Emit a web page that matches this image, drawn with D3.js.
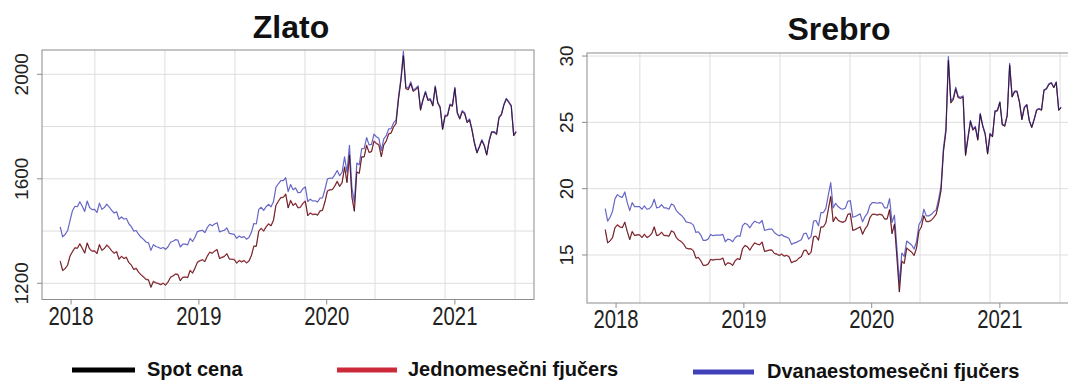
<!DOCTYPE html>
<html><head><meta charset="utf-8">
<script src="https://cdn.jsdelivr.net/npm/d3@7"></script>
<style>body{margin:0;background:#fff}svg{display:block}text{font-family:"Liberation Sans",Arial,sans-serif}</style>
</head><body><svg id="c" width="1068" height="381"></svg>
<script>
// ---------- data ----------
const startDate = "2017-12-01";   // first weekly observation
const stepDays = 7;               // weekly observations
const yearTicks = [2018, 2019, 2020, 2021];
const gridDays = [17600, 17800, 18000, 18200, 18400, 18600, 18800]; // days since 1970-01-01
const goldTicks = [1200, 1600, 2000];
const goldGrid = [1200, 1400, 1600, 1800, 2000];
const silverTicks = [15, 20, 25, 30];
const silverGrid = [15, 20, 25, 30];
const seriesNames = ["Spot cena", "Jednomesečni fjučers", "Dvanaestomesečni fjučers"];
const seriesColors = ["#000000", "#cc2a3a", "#4040b8"];
const panelTitles = ["Zlato", "Srebro"];

const goldSpot = [
 1284,1248,1255,1268,1303,
 1320,1335,1333,1350, 1333,1315,1353,1330, 1322,1323,1313,1347,1325, 1332,1345,1336,1323, 1314,1320,1291,1302, 1294,1298,1278,1269,1252,
 1256,1241,1231,1223, 1214,1212,1184,1206,1201, 1198,1194,1199,1192, 1204,1222,1227,1234, 1233,1209,1222,1223,1221, 1248,1238,1257,1280,
 1285,1289,1282,1303, 1318,1314,1322,1328, 1294,1298,1302,1312,1292, 1291,1290,1276,1286, 1281,1286,1277,1284,1305, 1341,1341,1399,1409,
 1399,1415,1426,1419, 1440,1497,1513,1527,1528, 1540,1488,1516,1497, 1505,1488,1490,1505, 1513,1458,1468,1462,1464, 1460,1476,1478,1511,
 1552,1557,1557,1571,1589, 1570,1584,1644,1585, 1690,1529,1475,1625, 1620,1683,1683,1727, 1700,1703,1743,1734,1729, 1684,1729,1743,1771,
 1774,1798,1810,1902,1975, 2070,1944,1940,1964, 1934,1940,1950,1862, 1900,1930,1899,1902,1878, 1951,1889,1871,1788, 1839,1840,1881,1877,
 1945,1850,1828,1856,1848, 1814,1824,1784,1734, 1698,1720,1745,1725, 1690,1744,1777,1777,1769, 1832,1844,1881,1904, 1891,1877,1764,1778
];
const goldFut1 = [
 1286,1250,1257,1270,1305,
 1322,1337,1335,1352, 1335,1317,1355,1332, 1324,1325,1315,1349,1327, 1334,1347,1338,1325, 1316,1322,1293,1304, 1296,1300,1280,1271,1254,
 1258,1243,1233,1225, 1216,1214,1186,1208,1203, 1200,1196,1201,1194, 1206,1224,1229,1236, 1235,1211,1224,1225,1223, 1250,1240,1259,1282,
 1287,1291,1284,1305, 1320,1316,1324,1330, 1296,1300,1304,1314,1294, 1293,1292,1278,1288, 1283,1288,1279,1286,1307, 1343,1343,1401,1411,
 1401,1417,1428,1421, 1442,1499,1515,1529,1530, 1542,1490,1518,1499, 1507,1490,1492,1507, 1515,1460,1470,1464,1466, 1462,1478,1480,1513,
 1554,1559,1559,1573,1591, 1572,1586,1646,1587, 1692,1531,1478,1627, 1622,1685,1685,1729, 1702,1705,1745,1736,1731, 1686,1731,1745,1773,
 1776,1800,1812,1904,1977, 2073,1946,1942,1966, 1936,1942,1952,1864, 1902,1932,1901,1904,1880, 1953,1891,1873,1790, 1841,1842,1883,1879,
 1947,1852,1830,1858,1850, 1816,1826,1786,1736, 1700,1722,1747,1727, 1692,1746,1779,1779,1771, 1834,1846,1883,1906, 1893,1879,1766,1780
];
const goldFut12 = [
 1416,1378,1387,1401,1440,
 1478,1495,1493,1512, 1495,1475,1515,1490, 1482,1483,1471,1507,1483, 1490,1503,1492,1479, 1469,1474,1445,1454, 1446,1448,1428,1417,1400,
 1402,1387,1376,1368, 1358,1355,1326,1348,1341, 1338,1333,1337,1330, 1340,1357,1361,1367, 1365,1339,1350,1350,1347, 1372,1360,1377,1398,
 1401,1403,1394,1413, 1426,1420,1427,1432, 1397,1400,1403,1412,1391, 1389,1387,1372,1381, 1375,1379,1369,1375,1395, 1429,1427,1483,1491,
 1479,1493,1502,1493, 1512,1567,1581,1593,1593, 1604,1551,1578,1558, 1565,1547,1548,1562, 1569,1513,1522,1515,1516, 1511,1526,1527,1559,
 1599,1603,1602,1615,1632, 1612,1625,1684,1624, 1728,1566,1511,1660, 1654,1716,1715,1758, 1730,1732,1771,1761,1755, 1709,1753,1765,1791,
 1792,1814,1824,1914,1985, 2088,1952,1947,1971, 1940,1946,1956,1868, 1905,1935,1904,1907,1883, 1956,1894,1876,1793, 1844,1845,1886,1882,
 1950,1855,1833,1861,1853, 1819,1829,1789,1739, 1703,1725,1750,1729, 1694,1748,1781,1781,1773, 1836,1848,1885,1908, 1895,1881,1768,1782
];
const silverSpot = [
 16.90,15.90,16.05,16.30,17.05,
 17.25,17.10,17.05,17.45, 16.75,16.15,16.75,16.45, 16.50,16.50,16.30,16.55,16.30, 16.40,16.60,17.10,16.45, 16.50,16.70,16.45,16.45, 16.40,16.80,16.70,16.30,16.10,
 16.00,15.80,15.50,15.45, 15.45,15.30,14.75,14.80,14.55, 14.20,14.20,14.30,14.65, 14.60,14.65,14.65,14.65, 14.75,14.20,14.40,14.35,14.20, 14.55,14.70,14.65,15.45,
 15.70,15.60,15.35,15.65, 15.90,15.80,15.75,15.95, 15.25,15.30,15.35,15.35,15.10, 15.05,14.95,15.05,14.90, 14.95,14.85,14.40,14.50,14.55, 14.75,14.85,15.30,15.35,
 15.00,15.20,16.35,16.40, 16.10,17.10,17.10,17.40,18.40, 19.40,17.50,17.85,17.60, 17.50,17.45,17.55,18.05, 18.10,16.85,16.90,17.00,17.10, 16.55,16.95,17.20,17.80,
 18.05,18.05,18.00,18.05,18.00, 17.70,17.70,18.40,16.60, 17.30,14.80,12.20,14.50, 14.35,15.50,15.35,15.20, 14.95,15.50,16.80,17.10,17.95, 17.50,17.50,17.60,17.80,
 18.05,18.85,19.85,22.80,24.30, 29.65,26.45,26.70,27.50, 26.85,26.80,26.90,22.50, 23.80,25.05,24.40,24.60,23.65, 25.60,24.70,24.10,22.60, 24.10,23.90,25.80,25.85,
 26.50,24.80,24.70,25.50,29.30, 26.90,27.30,27.30,26.50, 25.20,26.10,26.30,25.10, 24.60,25.20,25.90,26.00,25.90, 27.40,27.50,27.85,27.95, 27.60,28.00,25.90,26.10
];
const silverFut1 = [
 16.93,15.93,16.08,16.33,17.08,
 17.28,17.13,17.08,17.48, 16.78,16.18,16.78,16.48, 16.53,16.53,16.33,16.58,16.33, 16.43,16.63,17.13,16.48, 16.53,16.73,16.48,16.48, 16.43,16.83,16.73,16.33,16.13,
 16.03,15.83,15.53,15.48, 15.48,15.33,14.78,14.83,14.58, 14.23,14.23,14.33,14.68, 14.63,14.68,14.68,14.68, 14.78,14.23,14.43,14.38,14.23, 14.58,14.73,14.68,15.48,
 15.73,15.63,15.38,15.68, 15.93,15.83,15.78,15.98, 15.28,15.33,15.38,15.38,15.13, 15.08,14.98,15.08,14.93, 14.98,14.88,14.43,14.53,14.58, 14.78,14.88,15.33,15.38,
 15.03,15.23,16.38,16.43, 16.13,17.13,17.13,17.43,18.43, 19.43,17.53,17.88,17.63, 17.53,17.48,17.58,18.08, 18.13,16.88,16.93,17.03,17.13, 16.58,16.98,17.23,17.83,
 18.08,18.08,18.03,18.08,18.03, 17.73,17.73,18.43,16.63, 17.33,14.83,12.25,14.55, 14.38,15.53,15.38,15.23, 14.98,15.53,16.83,17.13,17.98, 17.53,17.53,17.63,17.83,
 18.08,18.88,19.88,22.83,24.33, 29.70,26.48,26.73,27.53, 26.88,26.83,26.93,22.53, 23.83,25.08,24.43,24.63,23.68, 25.63,24.73,24.13,22.63, 24.13,23.93,25.83,25.88,
 26.53,24.83,24.73,25.53,29.33, 26.93,27.33,27.33,26.53, 25.23,26.13,26.33,25.13, 24.63,25.23,25.93,26.03,25.93, 27.43,27.53,27.88,27.98, 27.63,28.03,25.93,26.13
];
const silverFut12 = [
 18.50,17.55,17.85,18.30,19.25,
 19.55,19.40,19.35,19.75, 18.95,18.35,18.95,18.65, 18.65,18.65,18.45,18.70,18.45, 18.50,18.70,19.20,18.55, 18.60,18.80,18.55,18.55, 18.45,18.85,18.75,18.35,18.15,
 18.00,17.80,17.50,17.45, 17.40,17.25,16.70,16.75,16.50, 16.10,16.10,16.20,16.55, 16.45,16.50,16.50,16.50, 16.55,16.00,16.20,16.15,16.00, 16.30,16.45,16.40,17.20,
 17.40,17.30,17.05,17.35, 17.55,17.45,17.40,17.60, 16.85,16.90,16.95,16.95,16.70, 16.55,16.45,16.55,16.40, 16.35,16.25,15.80,15.90,15.95, 16.05,16.15,16.60,16.65,
 16.20,16.40,17.55,17.60, 17.20,18.20,18.20,18.50,19.50, 20.45,18.55,18.90,18.65, 18.50,18.45,18.55,19.05, 19.10,17.85,17.90,18.00,18.10, 17.50,17.90,18.15,18.75,
 18.95,18.95,18.90,18.95,18.90, 18.55,18.55,19.25,17.45, 18.00,15.50,12.90,15.15, 14.90,16.05,15.90,15.75, 15.45,16.00,17.30,17.60,18.45, 17.95,17.95,18.05,18.25,
 18.40,19.20,20.20,23.10,24.55, 29.95,26.60,26.85,27.65, 26.95,26.90,27.00,22.60, 23.90,25.15,24.50,24.70,23.75, 25.68,24.78,24.18,22.68, 24.17,23.97,25.87,25.92,
 26.55,24.85,24.75,25.55,29.45, 26.95,27.35,27.35,26.55, 25.25,26.15,26.35,25.15, 24.65,25.25,25.95,26.05,25.95, 27.45,27.55,27.90,28.00, 27.65,28.05,25.95,26.15
];

// ---------- drawing ----------
const svg = d3.select("#c");
const parse = d3.utcParse("%Y-%m-%d");
const t0 = parse(startDate);
const xDomain = [parse("2017-10-10"), parse("2021-08-15")];

const panels = [
  {title: panelTitles[0], series: [goldSpot, goldFut1, goldFut12], ticks: goldTicks, grid: goldGrid,
   box: {x0: 42, x1: 534, y0: 50, y1: 299.5}, yDom: [1138, 2093], titleX: 291, titleY: 38, ylabX: 21},
  {title: panelTitles[1], series: [silverSpot, silverFut1, silverFut12], ticks: silverTicks, grid: silverGrid,
   box: {x0: 587, x1: 1079, y0: 53, y1: 303}, yDom: [11.38, 30.23], titleX: 839, titleY: 40, ylabX: 566}
];

panels.forEach((p, pi) => {
  const b = p.box;
  const x = d3.scaleUtc().domain(xDomain).range([b.x0, b.x1]);
  const y = d3.scaleLinear().domain(p.yDom).range([b.y1, b.y0]);
  const g = svg.append("g");
  const clipId = "clip" + pi;
  svg.append("clipPath").attr("id", clipId).append("rect")
    .attr("x", b.x0).attr("y", b.y0).attr("width", b.x1 - b.x0).attr("height", b.y1 - b.y0);

  // grid
  g.selectAll(".vg").data(gridDays).join("line")
    .attr("x1", d => x(new Date(d * 864e5))).attr("x2", d => x(new Date(d * 864e5)))
    .attr("y1", b.y0).attr("y2", b.y1).attr("stroke", "#dedede").attr("stroke-width", 1);
  g.selectAll(".hg").data(p.grid).join("line")
    .attr("x1", b.x0).attr("x2", b.x1).attr("y1", d => y(d)).attr("y2", d => y(d))
    .attr("stroke", "#dedede").attr("stroke-width", 1);

  // series lines: red, blue, then black on top
  const line = d3.line().x((d, i) => x(d3.utcDay.offset(t0, i * stepDays))).y(d => y(d));
  const order = [1, 2, 0];
  const lg = g.append("g").attr("clip-path", `url(#${clipId})`);
  order.forEach(si => {
    lg.append("path").datum(p.series[si]).attr("d", line).attr("fill", "none")
      .attr("stroke", seriesColors[si])
      .attr("stroke-width", si === 0 ? 1 : 1.2)
      .attr("stroke-opacity", si === 0 ? 0.55 : 0.8)
      .attr("stroke-linejoin", "round");
  });

  // box
  g.append("rect").attr("x", b.x0).attr("y", b.y0).attr("width", b.x1 - b.x0).attr("height", b.y1 - b.y0)
    .attr("fill", "none").attr("stroke", "#8c8c8c").attr("stroke-width", 1);

  // x axis ticks + labels (tall, narrow digits as in the reference)
  g.selectAll(".xt").data(yearTicks).join("line")
    .attr("x1", d => x(parse(d + "-01-01"))).attr("x2", d => x(parse(d + "-01-01")))
    .attr("y1", b.y1).attr("y2", b.y1 + 5).attr("stroke", "#8c8c8c");
  g.selectAll(".xl").data(yearTicks).join("text")
    .attr("transform", d => `translate(${x(parse(d + "-01-01"))},${b.y1 + 25}) scale(0.78,1)`)
    .attr("text-anchor", "middle").attr("font-size", 26).attr("fill", "#222")
    .text(d => d);

  // y axis ticks + labels (rotated)
  g.selectAll(".yt").data(p.ticks).join("line")
    .attr("x1", b.x0 - 5).attr("x2", b.x0).attr("y1", d => y(d)).attr("y2", d => y(d))
    .attr("stroke", "#8c8c8c");
  g.selectAll(".yl").data(p.ticks).join("text")
    .attr("transform", d => `translate(${p.ylabX + 7},${y(d)}) rotate(-90)`)
    .attr("text-anchor", "middle").attr("font-size", 19).attr("fill", "#222")
    .text(d => d);

  // title
  g.append("text").attr("x", p.titleX).attr("y", p.titleY).attr("text-anchor", "middle")
    .attr("font-size", 32).attr("font-weight", "bold").attr("fill", "#111").text(p.title);
});

// legend
const legendItems = [
  {x1: 72, x2: 135, tx: 147, y: 370},
  {x1: 337, x2: 397, tx: 408, y: 370},
  {x1: 693, x2: 754, tx: 767, y: 372}
];
const lgd = svg.append("g");
legendItems.forEach((it, i) => {
  lgd.append("line").attr("x1", it.x1).attr("x2", it.x2).attr("y1", it.y).attr("y2", it.y)
    .attr("stroke", seriesColors[i]).attr("stroke-width", 5);
  lgd.append("text").attr("x", it.tx).attr("y", it.y + 6).attr("font-size", 20)
    .attr("font-weight", "bold").attr("fill", "#111").text(seriesNames[i]);
});
</script></body></html>
